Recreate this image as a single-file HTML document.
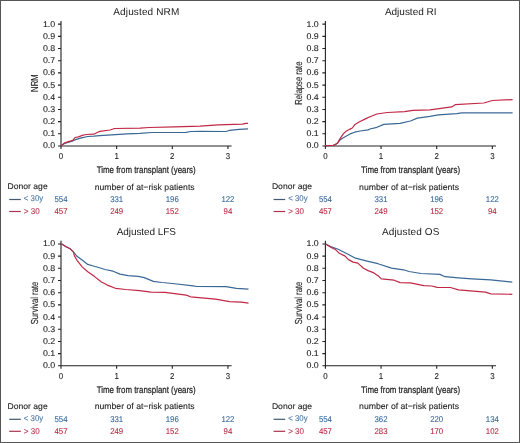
<!DOCTYPE html><html><head><meta charset="utf-8"><style>html,body{margin:0;padding:0;background:#fff;}svg{display:block;font-family:"Liberation Sans", sans-serif;text-rendering:geometricPrecision;will-change:transform;} text.b{stroke-width:0.1px;paint-order:stroke;} text.m{stroke-width:0.12px;paint-order:stroke;} text.x{stroke-width:0.22px;paint-order:stroke;}</style></head><body>
<svg width="520" height="443" viewBox="0 0 520 443" font-family="Liberation Sans, sans-serif">
<rect x="0" y="0" width="520" height="443" fill="#fff"/>
<g><path d="M61,21.0 V149.0 M61,146.0 H231.6" stroke="#222" stroke-width="1.1" fill="none"/><path d="M58,146.00H61M58,133.81H61M58,121.63H61M58,109.45H61M58,97.26H61M58,85.08H61M58,72.89H61M58,60.71H61M58,48.52H61M58,36.34H61M58,24.15H61M116.65,146.0V149.0M172.30,146.0V149.0M227.95,146.0V149.0" stroke="#222" stroke-width="1.1" fill="none"/><text x="55.2" y="148.45" font-size="8.4" fill="#222" stroke="#222" class="b" text-anchor="end" textLength="12.3" lengthAdjust="spacingAndGlyphs">0.0</text><text x="55.2" y="136.26" font-size="8.4" fill="#222" stroke="#222" class="b" text-anchor="end" textLength="12.3" lengthAdjust="spacingAndGlyphs">0.1</text><text x="55.2" y="124.08" font-size="8.4" fill="#222" stroke="#222" class="b" text-anchor="end" textLength="12.3" lengthAdjust="spacingAndGlyphs">0.2</text><text x="55.2" y="111.90" font-size="8.4" fill="#222" stroke="#222" class="b" text-anchor="end" textLength="12.3" lengthAdjust="spacingAndGlyphs">0.3</text><text x="55.2" y="99.71" font-size="8.4" fill="#222" stroke="#222" class="b" text-anchor="end" textLength="12.3" lengthAdjust="spacingAndGlyphs">0.4</text><text x="55.2" y="87.53" font-size="8.4" fill="#222" stroke="#222" class="b" text-anchor="end" textLength="12.3" lengthAdjust="spacingAndGlyphs">0.5</text><text x="55.2" y="75.34" font-size="8.4" fill="#222" stroke="#222" class="b" text-anchor="end" textLength="12.3" lengthAdjust="spacingAndGlyphs">0.6</text><text x="55.2" y="63.16" font-size="8.4" fill="#222" stroke="#222" class="b" text-anchor="end" textLength="12.3" lengthAdjust="spacingAndGlyphs">0.7</text><text x="55.2" y="50.97" font-size="8.4" fill="#222" stroke="#222" class="b" text-anchor="end" textLength="12.3" lengthAdjust="spacingAndGlyphs">0.8</text><text x="55.2" y="38.79" font-size="8.4" fill="#222" stroke="#222" class="b" text-anchor="end" textLength="12.3" lengthAdjust="spacingAndGlyphs">0.9</text><text x="55.2" y="26.60" font-size="8.4" fill="#222" stroke="#222" class="b" text-anchor="end" textLength="12.3" lengthAdjust="spacingAndGlyphs">1.0</text><text x="61.00" y="159.3" font-size="8.6" fill="#222" stroke="#222" class="b" text-anchor="middle" textLength="4.4" lengthAdjust="spacingAndGlyphs">0</text><text x="116.65" y="159.3" font-size="8.6" fill="#222" stroke="#222" class="b" text-anchor="middle" textLength="4.4" lengthAdjust="spacingAndGlyphs">1</text><text x="172.30" y="159.3" font-size="8.6" fill="#222" stroke="#222" class="b" text-anchor="middle" textLength="4.4" lengthAdjust="spacingAndGlyphs">2</text><text x="227.95" y="159.3" font-size="8.6" fill="#222" stroke="#222" class="b" text-anchor="middle" textLength="4.4" lengthAdjust="spacingAndGlyphs">3</text><text x="96.7" y="172.8" font-size="9.6" fill="#222" stroke="#222" class="x" textLength="99" lengthAdjust="spacingAndGlyphs">Time from transplant (years)</text><text transform="translate(37.6,83.2) rotate(-90)" x="0" y="0" font-size="10.2" fill="#222" stroke="#222" class="m" text-anchor="middle" textLength="17.4" lengthAdjust="spacingAndGlyphs">NRM</text><text x="146.3" y="15.2" font-size="10" fill="#222" text-anchor="middle" textLength="66" lengthAdjust="spacing">Adjusted NRM</text><polyline points="61.0,145.8 64.6,143.5 71.5,141.5 75.4,139.6 81.5,137.8 87.7,136.5 93.8,136.2 100.0,135.6 115.4,134.6 126.9,133.8 140.0,133.3 151.5,132.5 186.0,132.3 190.8,131.5 200.0,131.4 226.1,131.5 229.6,130.3 238.8,129.4 248.0,128.8" stroke="#3a6896" stroke-width="1.2" fill="none" stroke-linejoin="round"/><polyline points="61.0,145.8 64.2,143.1 67.7,141.9 72.7,140.4 75.0,137.5 78.5,136.9 82.3,135.4 86.2,134.5 93.8,134.2 97.7,132.3 100.0,131.4 110.0,130.0 114.6,128.5 140.0,128.1 149.2,127.5 174.6,126.9 200.0,126.2 218.0,124.8 242.3,124.2 245.8,123.3 248.0,123.3" stroke="#c22846" stroke-width="1.2" fill="none" stroke-linejoin="round"/><text x="7.5" y="189.2" font-size="8.3" fill="#222" stroke="#222" class="b" textLength="40.2" lengthAdjust="spacingAndGlyphs">Donor age</text><text x="94.7" y="189.5" font-size="8.5" fill="#222" stroke="#222" class="b" textLength="100" lengthAdjust="spacingAndGlyphs">number of at−risk patients</text><path d="M9.200000000000003,199.5H20.799999999999997" stroke="#42596f" stroke-width="1.2"/><path d="M9.200000000000003,211.5H20.799999999999997" stroke="#a8344f" stroke-width="1.2"/><text x="23.8" y="201.4" font-size="8.4" fill="#4a76a4" stroke="#4a76a4" class="b" textLength="19.4" lengthAdjust="spacingAndGlyphs">&lt; 30y</text><text x="23.8" y="213.7" font-size="8.4" fill="#b83550" stroke="#b83550" class="b" textLength="15.9" lengthAdjust="spacingAndGlyphs">&gt; 30</text><text x="61.00" y="202.2" font-size="8.4" fill="#35679c" stroke="#35679c" class="b" text-anchor="middle" textLength="13.05" lengthAdjust="spacingAndGlyphs">554</text><text x="61.00" y="214.2" font-size="8.4" fill="#b62943" stroke="#b62943" class="b" text-anchor="middle" textLength="13.05" lengthAdjust="spacingAndGlyphs">457</text><text x="116.65" y="202.2" font-size="8.4" fill="#35679c" stroke="#35679c" class="b" text-anchor="middle" textLength="13.05" lengthAdjust="spacingAndGlyphs">331</text><text x="116.65" y="214.2" font-size="8.4" fill="#b62943" stroke="#b62943" class="b" text-anchor="middle" textLength="13.05" lengthAdjust="spacingAndGlyphs">249</text><text x="172.30" y="202.2" font-size="8.4" fill="#35679c" stroke="#35679c" class="b" text-anchor="middle" textLength="13.05" lengthAdjust="spacingAndGlyphs">196</text><text x="172.30" y="214.2" font-size="8.4" fill="#b62943" stroke="#b62943" class="b" text-anchor="middle" textLength="13.05" lengthAdjust="spacingAndGlyphs">152</text><text x="227.95" y="202.2" font-size="8.4" fill="#35679c" stroke="#35679c" class="b" text-anchor="middle" textLength="13.05" lengthAdjust="spacingAndGlyphs">122</text><text x="227.95" y="214.2" font-size="8.4" fill="#b62943" stroke="#b62943" class="b" text-anchor="middle" textLength="8.70" lengthAdjust="spacingAndGlyphs">94</text></g>
<g><path d="M325.4,21.0 V149.0 M325.4,146.0 H496.0" stroke="#222" stroke-width="1.1" fill="none"/><path d="M322.4,146.00H325.4M322.4,133.81H325.4M322.4,121.63H325.4M322.4,109.45H325.4M322.4,97.26H325.4M322.4,85.08H325.4M322.4,72.89H325.4M322.4,60.71H325.4M322.4,48.52H325.4M322.4,36.34H325.4M322.4,24.15H325.4M381.05,146.0V149.0M436.70,146.0V149.0M492.35,146.0V149.0" stroke="#222" stroke-width="1.1" fill="none"/><text x="318.8" y="148.45" font-size="8.4" fill="#222" stroke="#222" class="b" text-anchor="end" textLength="12.3" lengthAdjust="spacingAndGlyphs">0.0</text><text x="318.8" y="136.26" font-size="8.4" fill="#222" stroke="#222" class="b" text-anchor="end" textLength="12.3" lengthAdjust="spacingAndGlyphs">0.1</text><text x="318.8" y="124.08" font-size="8.4" fill="#222" stroke="#222" class="b" text-anchor="end" textLength="12.3" lengthAdjust="spacingAndGlyphs">0.2</text><text x="318.8" y="111.90" font-size="8.4" fill="#222" stroke="#222" class="b" text-anchor="end" textLength="12.3" lengthAdjust="spacingAndGlyphs">0.3</text><text x="318.8" y="99.71" font-size="8.4" fill="#222" stroke="#222" class="b" text-anchor="end" textLength="12.3" lengthAdjust="spacingAndGlyphs">0.4</text><text x="318.8" y="87.53" font-size="8.4" fill="#222" stroke="#222" class="b" text-anchor="end" textLength="12.3" lengthAdjust="spacingAndGlyphs">0.5</text><text x="318.8" y="75.34" font-size="8.4" fill="#222" stroke="#222" class="b" text-anchor="end" textLength="12.3" lengthAdjust="spacingAndGlyphs">0.6</text><text x="318.8" y="63.16" font-size="8.4" fill="#222" stroke="#222" class="b" text-anchor="end" textLength="12.3" lengthAdjust="spacingAndGlyphs">0.7</text><text x="318.8" y="50.97" font-size="8.4" fill="#222" stroke="#222" class="b" text-anchor="end" textLength="12.3" lengthAdjust="spacingAndGlyphs">0.8</text><text x="318.8" y="38.79" font-size="8.4" fill="#222" stroke="#222" class="b" text-anchor="end" textLength="12.3" lengthAdjust="spacingAndGlyphs">0.9</text><text x="318.8" y="26.60" font-size="8.4" fill="#222" stroke="#222" class="b" text-anchor="end" textLength="12.3" lengthAdjust="spacingAndGlyphs">1.0</text><text x="325.40" y="159.3" font-size="8.6" fill="#222" stroke="#222" class="b" text-anchor="middle" textLength="4.4" lengthAdjust="spacingAndGlyphs">0</text><text x="381.05" y="159.3" font-size="8.6" fill="#222" stroke="#222" class="b" text-anchor="middle" textLength="4.4" lengthAdjust="spacingAndGlyphs">1</text><text x="436.70" y="159.3" font-size="8.6" fill="#222" stroke="#222" class="b" text-anchor="middle" textLength="4.4" lengthAdjust="spacingAndGlyphs">2</text><text x="492.35" y="159.3" font-size="8.6" fill="#222" stroke="#222" class="b" text-anchor="middle" textLength="4.4" lengthAdjust="spacingAndGlyphs">3</text><text x="361.1" y="172.8" font-size="9.6" fill="#222" stroke="#222" class="x" textLength="99" lengthAdjust="spacingAndGlyphs">Time from transplant (years)</text><text transform="translate(302.0,83.2) rotate(-90)" x="0" y="0" font-size="10.2" fill="#222" stroke="#222" class="m" text-anchor="middle" textLength="43.2" lengthAdjust="spacingAndGlyphs">Relapse rate</text><text x="410.7" y="15.2" font-size="10" fill="#222" text-anchor="middle" textLength="51.6" lengthAdjust="spacing">Adjusted RI</text><polyline points="325.3,145.7 333.2,145.4 335.4,144.6 337.7,142.9 339.9,140.1 343.3,137.8 350.1,133.9 354.6,132.2 360.2,131.0 368.1,129.9 370.0,129.0 376.9,127.3 383.8,124.4 400.0,123.3 410.4,121.0 417.3,118.1 430.0,116.3 438.2,114.8 456.8,113.7 461.8,112.8 512.6,112.8" stroke="#3a6896" stroke-width="1.2" fill="none" stroke-linejoin="round"/><polyline points="325.3,145.7 333.2,145.4 335.4,144.6 337.7,142.9 339.9,138.9 343.3,133.9 345.6,131.6 350.1,129.1 352.3,128.0 354.6,124.8 359.1,122.0 365.9,118.6 370.0,116.7 376.9,114.0 387.3,112.5 404.6,111.7 412.7,110.3 430.0,109.8 451.7,106.9 455.1,104.7 483.8,103.0 492.3,100.5 512.6,99.6" stroke="#c22846" stroke-width="1.2" fill="none" stroke-linejoin="round"/><text x="271.9" y="189.2" font-size="8.3" fill="#222" stroke="#222" class="b" textLength="40.2" lengthAdjust="spacingAndGlyphs">Donor age</text><text x="359.1" y="189.5" font-size="8.5" fill="#222" stroke="#222" class="b" textLength="100" lengthAdjust="spacingAndGlyphs">number of at−risk patients</text><path d="M273.59999999999997,199.5H285.2" stroke="#42596f" stroke-width="1.2"/><path d="M273.59999999999997,211.5H285.2" stroke="#a8344f" stroke-width="1.2"/><text x="288.2" y="201.4" font-size="8.4" fill="#4a76a4" stroke="#4a76a4" class="b" textLength="19.4" lengthAdjust="spacingAndGlyphs">&lt; 30y</text><text x="288.2" y="213.7" font-size="8.4" fill="#b83550" stroke="#b83550" class="b" textLength="15.9" lengthAdjust="spacingAndGlyphs">&gt; 30</text><text x="325.40" y="202.2" font-size="8.4" fill="#35679c" stroke="#35679c" class="b" text-anchor="middle" textLength="13.05" lengthAdjust="spacingAndGlyphs">554</text><text x="325.40" y="214.2" font-size="8.4" fill="#b62943" stroke="#b62943" class="b" text-anchor="middle" textLength="13.05" lengthAdjust="spacingAndGlyphs">457</text><text x="381.05" y="202.2" font-size="8.4" fill="#35679c" stroke="#35679c" class="b" text-anchor="middle" textLength="13.05" lengthAdjust="spacingAndGlyphs">331</text><text x="381.05" y="214.2" font-size="8.4" fill="#b62943" stroke="#b62943" class="b" text-anchor="middle" textLength="13.05" lengthAdjust="spacingAndGlyphs">249</text><text x="436.70" y="202.2" font-size="8.4" fill="#35679c" stroke="#35679c" class="b" text-anchor="middle" textLength="13.05" lengthAdjust="spacingAndGlyphs">196</text><text x="436.70" y="214.2" font-size="8.4" fill="#b62943" stroke="#b62943" class="b" text-anchor="middle" textLength="13.05" lengthAdjust="spacingAndGlyphs">152</text><text x="492.35" y="202.2" font-size="8.4" fill="#35679c" stroke="#35679c" class="b" text-anchor="middle" textLength="13.05" lengthAdjust="spacingAndGlyphs">122</text><text x="492.35" y="214.2" font-size="8.4" fill="#b62943" stroke="#b62943" class="b" text-anchor="middle" textLength="8.70" lengthAdjust="spacingAndGlyphs">94</text></g>
<g><path d="M61,240.8 V368.8 M61,365.8 H231.6" stroke="#222" stroke-width="1.1" fill="none"/><path d="M58,365.80H61M58,353.62H61M58,341.43H61M58,329.25H61M58,317.06H61M58,304.88H61M58,292.69H61M58,280.50H61M58,268.32H61M58,256.13H61M58,243.95H61M116.65,365.8V368.8M172.30,365.8V368.8M227.95,365.8V368.8" stroke="#222" stroke-width="1.1" fill="none"/><text x="55.2" y="368.25" font-size="8.4" fill="#222" stroke="#222" class="b" text-anchor="end" textLength="12.3" lengthAdjust="spacingAndGlyphs">0.0</text><text x="55.2" y="356.06" font-size="8.4" fill="#222" stroke="#222" class="b" text-anchor="end" textLength="12.3" lengthAdjust="spacingAndGlyphs">0.1</text><text x="55.2" y="343.88" font-size="8.4" fill="#222" stroke="#222" class="b" text-anchor="end" textLength="12.3" lengthAdjust="spacingAndGlyphs">0.2</text><text x="55.2" y="331.69" font-size="8.4" fill="#222" stroke="#222" class="b" text-anchor="end" textLength="12.3" lengthAdjust="spacingAndGlyphs">0.3</text><text x="55.2" y="319.51" font-size="8.4" fill="#222" stroke="#222" class="b" text-anchor="end" textLength="12.3" lengthAdjust="spacingAndGlyphs">0.4</text><text x="55.2" y="307.32" font-size="8.4" fill="#222" stroke="#222" class="b" text-anchor="end" textLength="12.3" lengthAdjust="spacingAndGlyphs">0.5</text><text x="55.2" y="295.14" font-size="8.4" fill="#222" stroke="#222" class="b" text-anchor="end" textLength="12.3" lengthAdjust="spacingAndGlyphs">0.6</text><text x="55.2" y="282.95" font-size="8.4" fill="#222" stroke="#222" class="b" text-anchor="end" textLength="12.3" lengthAdjust="spacingAndGlyphs">0.7</text><text x="55.2" y="270.77" font-size="8.4" fill="#222" stroke="#222" class="b" text-anchor="end" textLength="12.3" lengthAdjust="spacingAndGlyphs">0.8</text><text x="55.2" y="258.58" font-size="8.4" fill="#222" stroke="#222" class="b" text-anchor="end" textLength="12.3" lengthAdjust="spacingAndGlyphs">0.9</text><text x="55.2" y="246.40" font-size="8.4" fill="#222" stroke="#222" class="b" text-anchor="end" textLength="12.3" lengthAdjust="spacingAndGlyphs">1.0</text><text x="61.00" y="379.1" font-size="8.6" fill="#222" stroke="#222" class="b" text-anchor="middle" textLength="4.4" lengthAdjust="spacingAndGlyphs">0</text><text x="116.65" y="379.1" font-size="8.6" fill="#222" stroke="#222" class="b" text-anchor="middle" textLength="4.4" lengthAdjust="spacingAndGlyphs">1</text><text x="172.30" y="379.1" font-size="8.6" fill="#222" stroke="#222" class="b" text-anchor="middle" textLength="4.4" lengthAdjust="spacingAndGlyphs">2</text><text x="227.95" y="379.1" font-size="8.6" fill="#222" stroke="#222" class="b" text-anchor="middle" textLength="4.4" lengthAdjust="spacingAndGlyphs">3</text><text x="96.7" y="392.6" font-size="9.6" fill="#222" stroke="#222" class="x" textLength="99" lengthAdjust="spacingAndGlyphs">Time from transplant (years)</text><text transform="translate(37.6,303.0) rotate(-90)" x="0" y="0" font-size="10.2" fill="#222" stroke="#222" class="m" text-anchor="middle" textLength="42.6" lengthAdjust="spacingAndGlyphs">Survival rate</text><text x="146.3" y="235.0" font-size="10" fill="#222" text-anchor="middle" textLength="59.3" lengthAdjust="spacing">Adjusted LFS</text><polyline points="61.4,243.8 66.1,246.8 70.2,248.8 73.6,252.2 77.0,256.3 82.4,260.3 87.8,264.4 93.2,266.0 98.7,267.5 105.0,269.5 113.1,271.2 120.0,274.1 128.1,275.6 138.4,276.4 144.2,277.6 153.4,281.4 162.0,282.5 172.4,283.5 193.1,285.8 196.6,286.5 226.0,286.6 236.4,288.4 248.5,289.2" stroke="#3a6896" stroke-width="1.2" fill="none" stroke-linejoin="round"/><polyline points="61.4,243.8 66.1,246.8 70.2,248.8 73.6,252.2 74.3,255.6 77.0,260.3 82.4,267.1 87.8,271.8 94.6,276.6 101.4,282.0 105.0,283.7 108.0,285.4 115.4,288.3 125.8,289.5 139.6,290.6 151.1,292.2 165.0,292.4 186.2,295.1 190.5,296.8 215.6,299.1 229.5,301.7 241.6,302.2 248.5,303.1" stroke="#c22846" stroke-width="1.2" fill="none" stroke-linejoin="round"/><text x="7.5" y="409.0" font-size="8.3" fill="#222" stroke="#222" class="b" textLength="40.2" lengthAdjust="spacingAndGlyphs">Donor age</text><text x="94.7" y="409.3" font-size="8.5" fill="#222" stroke="#222" class="b" textLength="100" lengthAdjust="spacingAndGlyphs">number of at−risk patients</text><path d="M9.200000000000003,419.3H20.799999999999997" stroke="#42596f" stroke-width="1.2"/><path d="M9.200000000000003,431.3H20.799999999999997" stroke="#a8344f" stroke-width="1.2"/><text x="23.8" y="421.2" font-size="8.4" fill="#4a76a4" stroke="#4a76a4" class="b" textLength="19.4" lengthAdjust="spacingAndGlyphs">&lt; 30y</text><text x="23.8" y="433.5" font-size="8.4" fill="#b83550" stroke="#b83550" class="b" textLength="15.9" lengthAdjust="spacingAndGlyphs">&gt; 30</text><text x="61.00" y="422.0" font-size="8.4" fill="#35679c" stroke="#35679c" class="b" text-anchor="middle" textLength="13.05" lengthAdjust="spacingAndGlyphs">554</text><text x="61.00" y="434.0" font-size="8.4" fill="#b62943" stroke="#b62943" class="b" text-anchor="middle" textLength="13.05" lengthAdjust="spacingAndGlyphs">457</text><text x="116.65" y="422.0" font-size="8.4" fill="#35679c" stroke="#35679c" class="b" text-anchor="middle" textLength="13.05" lengthAdjust="spacingAndGlyphs">331</text><text x="116.65" y="434.0" font-size="8.4" fill="#b62943" stroke="#b62943" class="b" text-anchor="middle" textLength="13.05" lengthAdjust="spacingAndGlyphs">249</text><text x="172.30" y="422.0" font-size="8.4" fill="#35679c" stroke="#35679c" class="b" text-anchor="middle" textLength="13.05" lengthAdjust="spacingAndGlyphs">196</text><text x="172.30" y="434.0" font-size="8.4" fill="#b62943" stroke="#b62943" class="b" text-anchor="middle" textLength="13.05" lengthAdjust="spacingAndGlyphs">152</text><text x="227.95" y="422.0" font-size="8.4" fill="#35679c" stroke="#35679c" class="b" text-anchor="middle" textLength="13.05" lengthAdjust="spacingAndGlyphs">122</text><text x="227.95" y="434.0" font-size="8.4" fill="#b62943" stroke="#b62943" class="b" text-anchor="middle" textLength="8.70" lengthAdjust="spacingAndGlyphs">94</text></g>
<g><path d="M325.4,240.8 V368.8 M325.4,365.8 H496.0" stroke="#222" stroke-width="1.1" fill="none"/><path d="M322.4,365.80H325.4M322.4,353.62H325.4M322.4,341.43H325.4M322.4,329.25H325.4M322.4,317.06H325.4M322.4,304.88H325.4M322.4,292.69H325.4M322.4,280.50H325.4M322.4,268.32H325.4M322.4,256.13H325.4M322.4,243.95H325.4M381.05,365.8V368.8M436.70,365.8V368.8M492.35,365.8V368.8" stroke="#222" stroke-width="1.1" fill="none"/><text x="318.8" y="368.25" font-size="8.4" fill="#222" stroke="#222" class="b" text-anchor="end" textLength="12.3" lengthAdjust="spacingAndGlyphs">0.0</text><text x="318.8" y="356.06" font-size="8.4" fill="#222" stroke="#222" class="b" text-anchor="end" textLength="12.3" lengthAdjust="spacingAndGlyphs">0.1</text><text x="318.8" y="343.88" font-size="8.4" fill="#222" stroke="#222" class="b" text-anchor="end" textLength="12.3" lengthAdjust="spacingAndGlyphs">0.2</text><text x="318.8" y="331.69" font-size="8.4" fill="#222" stroke="#222" class="b" text-anchor="end" textLength="12.3" lengthAdjust="spacingAndGlyphs">0.3</text><text x="318.8" y="319.51" font-size="8.4" fill="#222" stroke="#222" class="b" text-anchor="end" textLength="12.3" lengthAdjust="spacingAndGlyphs">0.4</text><text x="318.8" y="307.32" font-size="8.4" fill="#222" stroke="#222" class="b" text-anchor="end" textLength="12.3" lengthAdjust="spacingAndGlyphs">0.5</text><text x="318.8" y="295.14" font-size="8.4" fill="#222" stroke="#222" class="b" text-anchor="end" textLength="12.3" lengthAdjust="spacingAndGlyphs">0.6</text><text x="318.8" y="282.95" font-size="8.4" fill="#222" stroke="#222" class="b" text-anchor="end" textLength="12.3" lengthAdjust="spacingAndGlyphs">0.7</text><text x="318.8" y="270.77" font-size="8.4" fill="#222" stroke="#222" class="b" text-anchor="end" textLength="12.3" lengthAdjust="spacingAndGlyphs">0.8</text><text x="318.8" y="258.58" font-size="8.4" fill="#222" stroke="#222" class="b" text-anchor="end" textLength="12.3" lengthAdjust="spacingAndGlyphs">0.9</text><text x="318.8" y="246.40" font-size="8.4" fill="#222" stroke="#222" class="b" text-anchor="end" textLength="12.3" lengthAdjust="spacingAndGlyphs">1.0</text><text x="325.40" y="379.1" font-size="8.6" fill="#222" stroke="#222" class="b" text-anchor="middle" textLength="4.4" lengthAdjust="spacingAndGlyphs">0</text><text x="381.05" y="379.1" font-size="8.6" fill="#222" stroke="#222" class="b" text-anchor="middle" textLength="4.4" lengthAdjust="spacingAndGlyphs">1</text><text x="436.70" y="379.1" font-size="8.6" fill="#222" stroke="#222" class="b" text-anchor="middle" textLength="4.4" lengthAdjust="spacingAndGlyphs">2</text><text x="492.35" y="379.1" font-size="8.6" fill="#222" stroke="#222" class="b" text-anchor="middle" textLength="4.4" lengthAdjust="spacingAndGlyphs">3</text><text x="361.1" y="392.6" font-size="9.6" fill="#222" stroke="#222" class="x" textLength="99" lengthAdjust="spacingAndGlyphs">Time from transplant (years)</text><text transform="translate(302.0,303.0) rotate(-90)" x="0" y="0" font-size="10.2" fill="#222" stroke="#222" class="m" text-anchor="middle" textLength="42.6" lengthAdjust="spacingAndGlyphs">Survival rate</text><text x="410.7" y="235.0" font-size="10" fill="#222" text-anchor="middle" textLength="57.5" lengthAdjust="spacing">Adjusted OS</text><polyline points="325.7,244.0 331.2,246.9 338.2,249.2 345.1,252.7 355.5,258.2 368.1,261.3 378.0,263.7 391.5,268.1 403.6,269.8 409.0,271.5 421.1,273.5 439.9,274.4 445.0,276.7 458.5,277.8 471.9,278.8 490.8,279.8 512.3,282.1" stroke="#3a6896" stroke-width="1.2" fill="none" stroke-linejoin="round"/><polyline points="325.7,244.0 331.2,247.5 335.8,249.8 339.3,253.3 345.1,256.1 348.5,259.6 353.1,262.1 357.8,263.1 363.5,268.3 368.1,270.6 373.9,272.9 378.0,275.8 381.4,278.9 394.2,280.2 400.2,282.6 410.3,282.9 423.8,285.6 431.8,286.0 437.2,287.3 450.4,287.5 458.5,289.8 485.4,292.2 490.8,293.8 512.3,294.3" stroke="#c22846" stroke-width="1.2" fill="none" stroke-linejoin="round"/><text x="271.9" y="409.0" font-size="8.3" fill="#222" stroke="#222" class="b" textLength="40.2" lengthAdjust="spacingAndGlyphs">Donor age</text><text x="359.1" y="409.3" font-size="8.5" fill="#222" stroke="#222" class="b" textLength="100" lengthAdjust="spacingAndGlyphs">number of at−risk patients</text><path d="M273.59999999999997,419.3H285.2" stroke="#42596f" stroke-width="1.2"/><path d="M273.59999999999997,431.3H285.2" stroke="#a8344f" stroke-width="1.2"/><text x="288.2" y="421.2" font-size="8.4" fill="#4a76a4" stroke="#4a76a4" class="b" textLength="19.4" lengthAdjust="spacingAndGlyphs">&lt; 30y</text><text x="288.2" y="433.5" font-size="8.4" fill="#b83550" stroke="#b83550" class="b" textLength="15.9" lengthAdjust="spacingAndGlyphs">&gt; 30</text><text x="325.40" y="422.0" font-size="8.4" fill="#35679c" stroke="#35679c" class="b" text-anchor="middle" textLength="13.05" lengthAdjust="spacingAndGlyphs">554</text><text x="325.40" y="434.0" font-size="8.4" fill="#b62943" stroke="#b62943" class="b" text-anchor="middle" textLength="13.05" lengthAdjust="spacingAndGlyphs">457</text><text x="381.05" y="422.0" font-size="8.4" fill="#35679c" stroke="#35679c" class="b" text-anchor="middle" textLength="13.05" lengthAdjust="spacingAndGlyphs">362</text><text x="381.05" y="434.0" font-size="8.4" fill="#b62943" stroke="#b62943" class="b" text-anchor="middle" textLength="13.05" lengthAdjust="spacingAndGlyphs">283</text><text x="436.70" y="422.0" font-size="8.4" fill="#35679c" stroke="#35679c" class="b" text-anchor="middle" textLength="13.05" lengthAdjust="spacingAndGlyphs">220</text><text x="436.70" y="434.0" font-size="8.4" fill="#b62943" stroke="#b62943" class="b" text-anchor="middle" textLength="13.05" lengthAdjust="spacingAndGlyphs">170</text><text x="492.35" y="422.0" font-size="8.4" fill="#35679c" stroke="#35679c" class="b" text-anchor="middle" textLength="13.05" lengthAdjust="spacingAndGlyphs">134</text><text x="492.35" y="434.0" font-size="8.4" fill="#b62943" stroke="#b62943" class="b" text-anchor="middle" textLength="13.05" lengthAdjust="spacingAndGlyphs">102</text></g>
<rect x="0.5" y="0.5" width="519" height="442" fill="none" stroke="#565656" stroke-width="1"/>
</svg></body></html>
